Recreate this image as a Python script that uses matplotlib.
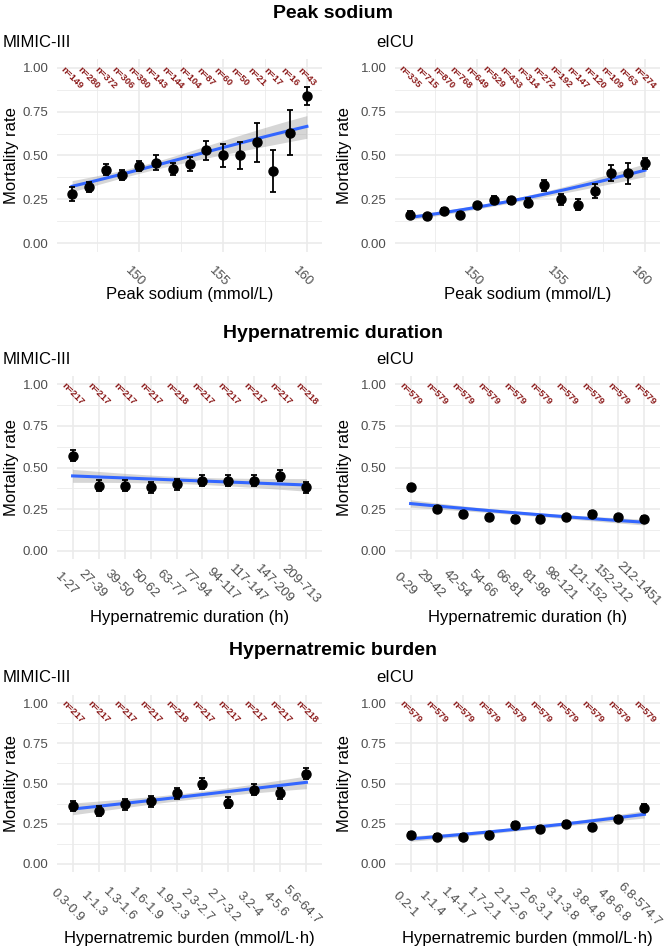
"""Mortality rate by peak sodium, hypernatremic duration and burden (MIMIC-III / eICU)."""

import numpy as np
import matplotlib
matplotlib.use("Agg")
from matplotlib import pyplot as plt

plt.rcParams["font.family"] = ["Liberation Sans", "DejaVu Sans"]

# Peak sodium (mmol/L)
sodium = [146, 147, 148, 149, 150, 151, 152, 153, 154, 155, 156, 157, 158, 159, 160]
sodium_mimic_rate = [0.28, 0.32, 0.42, 0.39, 0.44, 0.46, 0.425, 0.45, 0.53, 0.50, 0.50, 0.575, 0.41, 0.63, 0.84]
sodium_mimic_err = [0.04, 0.03, 0.03, 0.03, 0.03, 0.045, 0.035, 0.04, 0.055, 0.065, 0.075, 0.11, 0.12, 0.13, 0.05]
sodium_mimic_n = [149, 280, 372, 306, 380, 143, 144, 104, 87, 60, 50, 21, 17, 16, 43]
sodium_eicu_rate = [0.163, 0.154, 0.186, 0.162, 0.216, 0.248, 0.244, 0.23, 0.33, 0.25, 0.22, 0.30, 0.40, 0.40, 0.455]
sodium_eicu_err = [0.02, 0.012, 0.015, 0.015, 0.015, 0.02, 0.02, 0.025, 0.03, 0.03, 0.03, 0.04, 0.045, 0.06, 0.03]
sodium_eicu_n = [335, 715, 870, 768, 649, 529, 433, 314, 272, 192, 147, 120, 109, 63, 274]

# Hypernatremic duration (h)
dur_mimic_bins = ["1-27", "27-39", "39-50", "50-62", "63-77", "77-94", "94-117", "117-147", "147-209", "209-713"]
dur_mimic_rate = [0.57, 0.39, 0.39, 0.38, 0.40, 0.42, 0.42, 0.42, 0.45, 0.38]
dur_mimic_err = [0.033, 0.033, 0.033, 0.033, 0.033, 0.033, 0.033, 0.033, 0.033, 0.033]
dur_mimic_n = [217, 217, 217, 217, 218, 217, 217, 217, 217, 218]
dur_eicu_bins = ["0-29", "29-42", "42-54", "54-66", "66-81", "81-98", "98-121", "121-152", "152-212", "212-1451"]
dur_eicu_rate = [0.38, 0.25, 0.22, 0.20, 0.19, 0.19, 0.20, 0.22, 0.20, 0.19]
dur_eicu_err = [0.02, 0.018, 0.017, 0.017, 0.016, 0.016, 0.017, 0.017, 0.017, 0.016]
dur_eicu_n = [579] * 10

# Hypernatremic burden (mmol/L*h)
bur_mimic_bins = ["0.3-0.9", "1-1.3", "1.3-1.6", "1.6-1.9", "1.9-2.3", "2.3-2.7", "2.7-3.2", "3.2-4", "4-5.6", "5.6-64.7"]
bur_mimic_rate = [0.36, 0.33, 0.37, 0.39, 0.44, 0.50, 0.38, 0.46, 0.44, 0.56]
bur_mimic_err = [0.033, 0.032, 0.033, 0.033, 0.034, 0.034, 0.033, 0.034, 0.034, 0.034]
bur_mimic_n = [217, 217, 217, 217, 218, 217, 217, 217, 217, 218]
bur_eicu_bins = ["0.2-1", "1-1.4", "1.4-1.7", "1.7-2.1", "2.1-2.6", "2.6-3.1", "3.1-3.8", "3.8-4.8", "4.8-6.8", "6.8-574.7"]
bur_eicu_rate = [0.18, 0.17, 0.17, 0.18, 0.24, 0.22, 0.25, 0.23, 0.28, 0.35]
bur_eicu_err = [0.016, 0.016, 0.016, 0.016, 0.018, 0.017, 0.018, 0.017, 0.019, 0.02]
bur_eicu_n = [579] * 10

W, H = 666, 946
GRID = "#EBEBEB"
TICK = "#4D4D4D"


def logit_fit(x, p, n):
    """Binomial GLM (logit link) on grouped data, with 95% band."""
    x = np.asarray(x, float)
    p = np.asarray(p, float)
    n = np.asarray(n, float)
    X = np.column_stack([np.ones_like(x), x])
    beta = np.zeros(2)
    for _ in range(60):
        mu = 1 / (1 + np.exp(-(X @ beta)))
        w = n * mu * (1 - mu)
        z = X @ beta + (p - mu) / (mu * (1 - mu))
        xtw = X.T * w
        beta = np.linalg.solve(xtw @ X, xtw @ z)
    mu = 1 / (1 + np.exp(-(X @ beta)))
    cov = np.linalg.inv((X.T * (n * mu * (1 - mu))) @ X)
    xs = np.linspace(x.min(), x.max(), 80)
    xg = np.column_stack([np.ones_like(xs), xs])
    eta = xg @ beta
    se = np.sqrt(np.sum((xg @ cov) * xg, axis=1))
    f = lambda e: 1 / (1 + np.exp(-e))
    return xs, f(eta), f(eta - 1.96 * se), f(eta + 1.96 * se)


def px_axes(fig, left, top, width, height):
    return fig.add_axes([left / W, 1 - (top + height) / H, width / W, height / H])


def panel(ax, x, rate, err, n, xlim, ylab_x, lab_off, xtitle, xtitle_y, labels=None):
    xs, fit, lo, hi = logit_fit(x, rate, n)
    ax.fill_between(xs, lo, hi, color="#999999", alpha=0.4, lw=0, zorder=2)
    ax.plot(xs, fit, color="#3366FF", lw=2.2, zorder=3)
    ax.errorbar(x, rate, yerr=err, fmt="o", color="black", ms=6.5, elinewidth=1.3,
                capsize=2.4, capthick=1.3, zorder=4)
    for xi, ni in zip(x, n):
        ax.text(xi, 0.945, f"n={ni}", rotation=-45, ha="center", va="center",
                fontsize=6.8, fontweight="bold", color="#8B1A1A", zorder=5)
    ax.set_xlim(*xlim)
    ax.set_ylim(-0.05, 1.05)
    ax.set_yticks([0, 0.25, 0.5, 0.75, 1.0])
    ax.set_yticklabels(["0.00", "0.25", "0.50", "0.75", "1.00"])
    ax.set_yticks([0.125, 0.375, 0.625, 0.875], minor=True)
    if labels is not None:
        ticks = list(x)
        ax.set_xticks(ticks)
    else:
        ticks = [150, 155, 160]
        labels = [str(t) for t in ticks]
        ax.set_xticks(ticks)
        ax.set_xticks([147.5, 152.5, 157.5], minor=True)
    ax.set_xticklabels([])
    dx, dy = lab_off
    for t, lab in zip(ticks, labels):
        ax.annotate(lab, xy=(t, 0), xycoords=("data", "axes fraction"),
                    xytext=(dx, -dy), textcoords="offset pixels", rotation=-45,
                    ha="center", va="center", fontsize=9.5, color=TICK,
                    annotation_clip=False)
    ax.grid(which="major", color=GRID, lw=1.2, zorder=0)
    ax.grid(which="minor", color=GRID, lw=0.6, zorder=0)
    ax.set_axisbelow(True)
    for s in ax.spines.values():
        s.set_visible(False)
    ax.tick_params(which="both", length=0)
    ax.tick_params(axis="y", labelsize=9.5, labelcolor=TICK, pad=6)
    ax.set_ylabel("Mortality rate", fontsize=12)
    ax.yaxis.set_label_coords(ylab_x, 0.5)
    ax.yaxis.label.set_va("center")
    ax.set_xlabel(xtitle, fontsize=12)
    ax.xaxis.set_label_coords(0.5, xtitle_y)
    ax.xaxis.label.set_va("center")


fig = plt.figure(figsize=(W / 100, H / 100), dpi=100)

cols = [57, 395]
pw = 265
cat_x = list(range(1, 11))
rows = [
    # section title, title y, sub y, panel top, panel height, label offset, x title y
    ("Peak sodium", 14, 42, 59, 193, (-4, 25), 295),
    ("Hypernatremic duration", 333, 359, 376, 183, (-6, 25), 617),
    ("Hypernatremic burden", 650, 677, 695, 177, (-5, 33), 938),
]
datasets = [
    [(sodium, sodium_mimic_rate, sodium_mimic_err, sodium_mimic_n, None),
     (sodium, sodium_eicu_rate, sodium_eicu_err, sodium_eicu_n, None)],
    [(cat_x, dur_mimic_rate, dur_mimic_err, dur_mimic_n, dur_mimic_bins),
     (cat_x, dur_eicu_rate, dur_eicu_err, dur_eicu_n, dur_eicu_bins)],
    [(cat_x, bur_mimic_rate, bur_mimic_err, bur_mimic_n, bur_mimic_bins),
     (cat_x, bur_eicu_rate, bur_eicu_err, bur_eicu_n, bur_eicu_bins)],
]
xtitles = ["Peak sodium (mmol/L)", "Hypernatremic duration (h)", "Hypernatremic burden (mmol/L\u00b7h)"]

for (title, ty, sy, top, ph, off, xty), row_data, xtitle in zip(rows, datasets, xtitles):
    fig.text(0.5, 1 - ty / H, title, ha="center", va="center", fontsize=14, fontweight="bold")
    for ci, (left, (x, r, e, n, labels)) in enumerate(zip(cols, row_data)):
        ax = px_axes(fig, left, top, pw, ph)
        xlim = (145.1, 160.9) if labels is None else (0.4, 10.6)
        ylab_x = (12 - left) / pw if ci == 0 else (345 - left) / pw
        panel(ax, x, r, e, n, xlim, ylab_x, off, xtitle, -(xty - top - ph) / ph, labels)
        sub = "MIMIC-III" if ci == 0 else "eICU"
        fig.text((3 if ci == 0 else 376) / W, 1 - sy / H, sub, ha="left", va="center", fontsize=12)

fig.savefig("out.png", dpi=100, facecolor="white")
